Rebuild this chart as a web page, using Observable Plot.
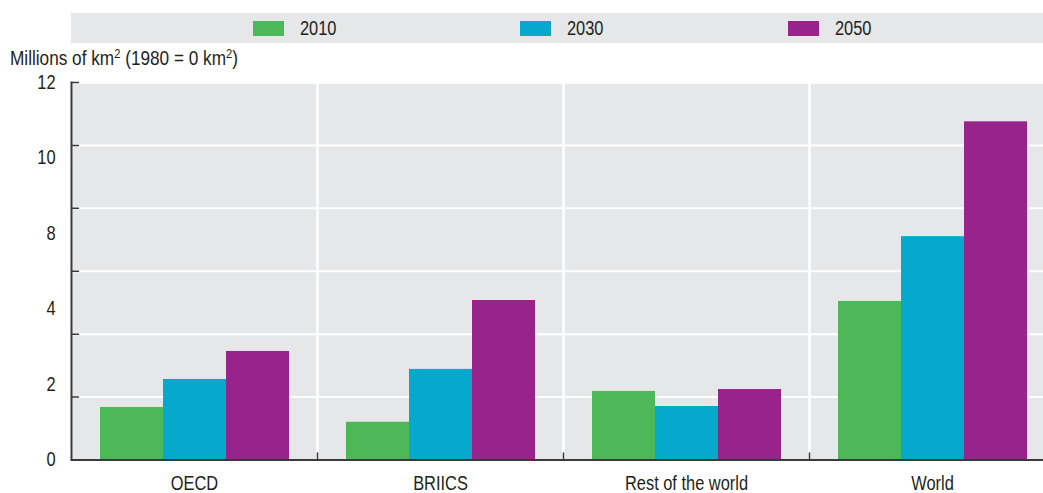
<!DOCTYPE html>
<html>
<head>
<meta charset="utf-8">
<script src="https://cdn.jsdelivr.net/npm/d3@7"></script>
<script src="https://cdn.jsdelivr.net/npm/@observablehq/plot@0.6"></script>
<style>
  html, body { margin: 0; padding: 0; background: #fff; overflow: hidden; width: 1043px; height: 493px; }
  body { position: relative; font-family: "Liberation Sans", Arial, sans-serif; color: #231f20; }
  #legend { position: absolute; left: 71px; top: 13px; width: 972px; height: 30px; background: #e6e7e9; }
  .item { position: absolute; top: 0; height: 30px; display: flex; align-items: center; font-size: 20px; }
  .sw { width: 31px; height: 15px; margin-right: 16px; }
  .narrow { display: inline-block; transform: scaleX(0.82); transform-origin: left center; white-space: nowrap; }
  #title { position: absolute; left: 10px; top: 48px; font-size: 20px; line-height: 20px; white-space: nowrap; }
  #title .narrow { transform: scaleX(0.86); }
  #title sup { font-size: 13px; line-height: 0; vertical-align: 7px; }
  #chart { position: absolute; left: 0; top: 70px; width: 1055px; }
  #chart svg { max-width: none !important; }
</style>
</head>
<body>
<div id="legend"></div>
<div id="title"><span class="narrow">Millions of km<sup>2</sup> (1980 = 0 km<sup>2</sup>)</span></div>
<div id="chart"></div>
<script>
const regions = ["OECD", "BRIICS", "Rest of the world", "World"];
const years = ["2010", "2030", "2050"];
const values2010 = [1.67, 1.20, 2.18, 5.04];
const values2030 = [2.56, 2.88, 1.70, 7.10];
const values2050 = [3.45, 5.07, 2.24, 10.75];
const colors = ["#4cb858", "#05a9cc", "#98238b"];
const yTicks = [0, 2, 4, 6, 8, 10, 12];
const yTickLabels = ["0", "2", "4", "8", "10", "12"];

const series = [values2010, values2030, values2050];
const data = [];
regions.forEach((r, i) => years.forEach((y, j) => data.push({region: r, year: y, value: series[j][i]})));

const bg = "#e6e7e9";
const dark = "#3a3a3a";
const font = "'Liberation Sans', Arial, sans-serif";
const narrowFactor = 0.82;
const lineShape = {draw(context, l) { context.moveTo(0, 0); context.lineTo(0, -l); }};
const yMax = yTicks[yTicks.length - 1];

// legend
const legend = document.getElementById("legend");
const legendLeft = [182, 449, 717];
years.forEach((y, j) => {
  const it = document.createElement("div");
  it.className = "item";
  it.style.left = legendLeft[j] + "px";
  it.innerHTML = `<div class="sw" style="background:${colors[j]}"></div><span class="narrow">${y}</span>`;
  legend.appendChild(it);
});

const plot = Plot.plot({
  width: 1055,
  height: 423,
  marginTop: 12,
  marginBottom: 33.5,
  marginLeft: 71,
  marginRight: 0,
  style: {fontFamily: font, fontSize: "20px", color: "#231f20", background: "transparent", maxWidth: "none", overflow: "visible"},
  fx: {domain: regions, padding: 0, label: null},
  x: {domain: years, paddingInner: 0, paddingOuter: 0.443, axis: null},
  y: {domain: [0, yMax], axis: null},
  color: {domain: years, range: colors},
  marks: [
    Plot.frame({fill: bg}),
    Plot.ruleY(yTicks.slice(1), {stroke: "#fff", strokeWidth: 2}),
    Plot.frame({stroke: "#fff", strokeWidth: 2}),
    Plot.barY(data, {fx: "region", x: "year", y: "value", fill: "year"}),
    Plot.ruleY([0], {stroke: dark, strokeWidth: 2}),
    Plot.frame({anchor: "left", stroke: dark, strokeWidth: 2, facetAnchor: "left"}),
    Plot.vector(yTicks, {fx: () => regions[0], y: d => d, frameAnchor: "left", rotate: 90, length: 7, anchor: "start", shape: lineShape, stroke: dark, strokeWidth: 1.5}),
    Plot.vector(regions.slice(1), {fx: d => d, frameAnchor: "bottom-left", rotate: 0, length: 7, anchor: "start", shape: lineShape, stroke: dark, strokeWidth: 1.5}),
    Plot.text(yTickLabels, {fx: () => regions[0], y: (d, i) => i * yMax / (yTickLabels.length - 1), text: d => d, frameAnchor: "left", textAnchor: "end", dx: -16, fontSize: 20, fill: "#231f20"}),
    Plot.axisFx({anchor: "bottom", tickSize: 0, tickPadding: 16, label: null, fontSize: 20})
  ]
});
document.getElementById("chart").appendChild(plot);

// narrow the glyphs (condensed look) without moving the anchors
d3.select(plot).selectAll("text").each(function () {
  const len = this.getComputedTextLength();
  if (len > 0) {
    this.setAttribute("textLength", len * narrowFactor);
    this.setAttribute("lengthAdjust", "spacingAndGlyphs");
  }
});
</script>
</body>
</html>
